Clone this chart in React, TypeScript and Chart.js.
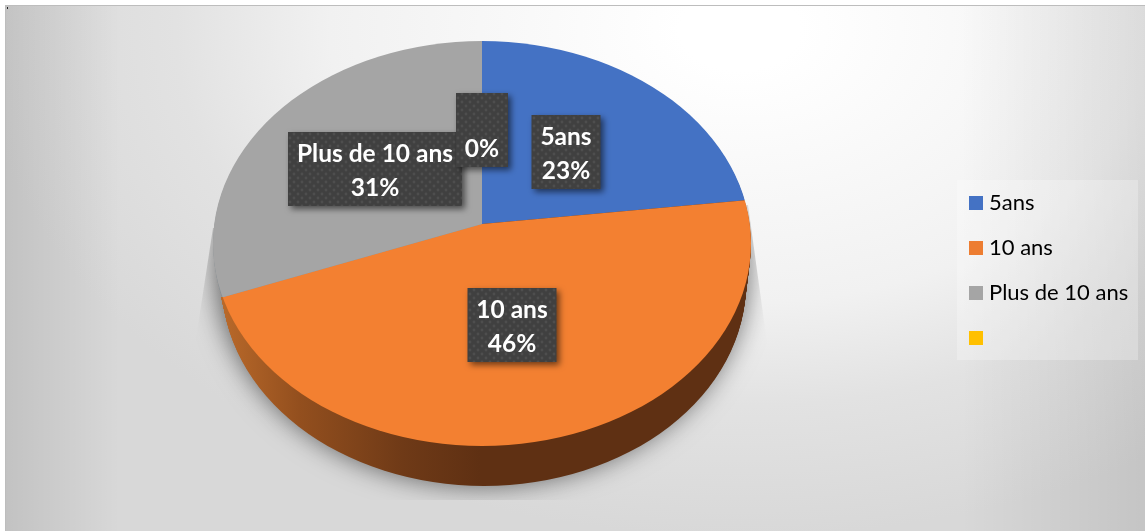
import React, { useEffect, useRef } from "react";
import { Chart, registerables } from "chart.js";

Chart.register(...registerables);

const categories = ["5ans", "10 ans", "Plus de 10 ans", ""];
const shares = [23, 46, 31, 0];
const sliceColors = ["#4472C4", "#F38031", "#A5A5A5", "#FFC000"];
const legendColors = ["#4472C4", "#ED7D31", "#A5A5A5", "#FFC000"];
const labelNudges = [[0, 3], [-1, 4], [-2, 1], [0, 6]];

const APEX = { x: 482, y: 224 };
const FACE = { x: 482, y: 243.5, rx: 269, ry: 202.5 };
const DEPTH = 40;
const WALL_START_Y = 297;
const FONT = "Lato, 'Open Sans', sans-serif";

function ellipsePath(ctx: CanvasRenderingContext2D, dy = 0) {
  ctx.beginPath();
  ctx.ellipse(FACE.x + 0.05 * dy, FACE.y + dy, FACE.rx - 0.175 * dy, FACE.ry, 0, 0, Math.PI * 2);
}

function drawArcs(ctx: CanvasRenderingContext2D, arcs: any[], dy: number, paint?: (i: number, toUser: (x: number) => number) => any) {
  arcs.forEach((el, i) => {
    if (!el.circumference) return;
    const sx = 340 / el.outerRadius;
    const sy = 243 / el.outerRadius;
    ctx.save();
    ctx.translate(APEX.x, APEX.y + dy);
    ctx.scale(sx, sy);
    ctx.translate(-el.x, -el.y);
    const orig = el.options;
    if (paint) {
      const fill = paint(i, (x: number) => (x - APEX.x) / sx + el.x);
      el.options = Object.create(orig, { backgroundColor: { value: fill } });
    }
    el.draw(ctx);
    el.options = orig;
    ctx.restore();
  });
}

const scenePlugin = {
  id: "scene",
  afterLayout(chart: any) {
    const lg = chart.legend;
    const dx = 951 - lg.left;
    const dy = 169 - lg.top;
    lg.left += dx; lg.right += dx; lg.top += dy; lg.bottom += dy;
    lg.adjustHitBoxes();
  },
  beforeDraw(chart: any) {
    const { ctx, width, height } = chart;
    ctx.save();
    ctx.fillStyle = "#ffffff";
    ctx.fillRect(0, 0, width, height);

    ctx.save();
    ctx.beginPath();
    ctx.rect(5, 5, width - 5, height - 5);
    ctx.clip();
    ctx.translate(740, 30);
    ctx.scale(1, 1 / 1.5);
    const g = ctx.createRadialGradient(0, 0, 60, 0, 0, 760);
    g.addColorStop(0, "#ffffff");
    g.addColorStop(0.5, "#f1f1f1");
    g.addColorStop(0.72, "#e2e2e2");
    g.addColorStop(1, "#d8d8d8");
    ctx.fillStyle = g;
    ctx.fillRect(-800, -100, 1400, 1000);
    ctx.restore();

    const l = ctx.createLinearGradient(5, 0, 120, 0);
    l.addColorStop(0, "rgba(0,0,0,0.10)");
    l.addColorStop(1, "rgba(0,0,0,0)");
    ctx.fillStyle = l;
    ctx.fillRect(5, 5, 115, height - 5);
    const r = ctx.createLinearGradient(960, 0, width, 0);
    r.addColorStop(0, "rgba(0,0,0,0)");
    r.addColorStop(1, "rgba(0,0,0,0.09)");
    ctx.fillStyle = r;
    ctx.fillRect(960, 5, width - 960, height - 5);
    ctx.fillStyle = "#bdbdbd";
    ctx.fillRect(5, 5, width - 5, 1);
    ctx.fillRect(5, 5, 1, height - 5);
    ctx.fillStyle = "#222222";
    ctx.fillRect(7, 7, 1, 2);

    ctx.fillStyle = "rgba(255,255,255,0.25)";
    const hit = chart.legend.legendHitBoxes;
    const last = hit[hit.length - 1];
    ctx.fillRect(957, hit[0].top - 12, 181, last.top + last.height + 11 - (hit[0].top - 12));
    ctx.restore();
  },
  beforeDatasetsDraw(chart: any) {
    const { ctx } = chart;
    const arcs = chart.getDatasetMeta(0).data;

    // soft floor shadow, cut off like the source picture
    ctx.save();
    ctx.beginPath();
    ctx.moveTo(213, 228);
    ctx.lineTo(195, 345);
    ctx.lineTo(195, 500);
    ctx.lineTo(770, 500);
    ctx.lineTo(768, 350);
    ctx.lineTo(748, 205);
    ctx.closePath();
    ctx.clip();
    ctx.shadowColor = "rgba(0,0,0,0.55)";
    ctx.shadowBlur = 26;
    ctx.shadowOffsetX = 3000;
    ctx.shadowOffsetY = 0;
    ctx.fillStyle = "#000";
    ctx.beginPath();
    ctx.ellipse(FACE.x - 3000, FACE.y + 24, FACE.rx - 2, FACE.ry + 16, 0, 0, Math.PI * 2);
    ctx.fill();
    ctx.restore();

    // thin grey sliver of the wall beside the grey slice
    for (let dy = 4; dy >= 1; dy--) {
      ctx.save();
      ctx.beginPath();
      ctx.rect(0, 0, APEX.x, WALL_START_Y);
      ctx.clip();
      ellipsePath(ctx, dy);
      ctx.clip();
      drawArcs(ctx, arcs, dy, () => "#8a9196");
      ctx.restore();
    }

    // the wall of the disc
    ctx.save();
    ctx.beginPath();
    ctx.rect(0, WALL_START_Y, APEX.x, 300);
    ctx.rect(APEX.x, 0, 700, 600);
    ctx.clip();
    for (let dy = DEPTH; dy >= 1; dy--) {
      ctx.save();
      ellipsePath(ctx, dy);
      ctx.clip();
      drawArcs(ctx, arcs, dy, (_i, toUser) => {
        const g = ctx.createLinearGradient(toUser(222), 0, toUser(480), 0);
        g.addColorStop(0, "#B9692A");
        g.addColorStop(0.3, "#934F1E");
        g.addColorStop(0.7, "#6F3A17");
        g.addColorStop(1, "#5F3013");
        return g;
      });
      ctx.restore();
    }
    ctx.restore();

    // the top face
    ctx.save();
    ellipsePath(ctx);
    ctx.clip();
    drawArcs(ctx, arcs, 0);
    ctx.restore();
    return false;
  },
  afterDraw(chart: any) {
    const { ctx } = chart;
    const arcs = chart.getDatasetMeta(0).data;
    const total = shares.reduce((a, b) => a + b, 0);
    const tile = document.createElement("canvas");
    tile.width = 8;
    tile.height = 8;
    const t = tile.getContext("2d")!;
    t.fillStyle = "#404040";
    t.fillRect(0, 0, 8, 8);
    t.fillStyle = "#4e4e4e";
    [[2, 2], [6, 6]].forEach(([x, y]) => {
      t.beginPath();
      t.arc(x, y, 1.4, 0, Math.PI * 2);
      t.fill();
    });
    const pattern = ctx.createPattern(tile, "repeat");

    arcs.forEach((el: any, i: number) => {
      const mid = (el.startAngle + el.endAngle) / 2;
      const cx = Math.round(APEX.x + 126.4 * Math.cos(mid) + labelNudges[i][0]);
      const cy = Math.round(APEX.y + 99.8 * Math.sin(mid) + labelNudges[i][1]);
      const lines = [categories[i], Math.round((shares[i] / total) * 100) + "%"];
      ctx.save();
      ctx.font = "bold 24.5px " + FONT;
      const tw = Math.max(...lines.map((s) => ctx.measureText(s).width));
      const w = Math.round(tw + 18);
      const h = 74;
      ctx.shadowColor = "rgba(0,0,0,0.55)";
      ctx.shadowBlur = 6;
      ctx.shadowOffsetX = 3;
      ctx.shadowOffsetY = 3;
      ctx.fillStyle = pattern;
      ctx.fillRect(cx - w / 2, cy - h / 2, w, h);
      ctx.shadowColor = "transparent";
      ctx.fillStyle = "#ffffff";
      ctx.textAlign = "center";
      ctx.textBaseline = "middle";
      ctx.fillText(lines[0], cx, cy - 15);
      ctx.fillText(lines[1], cx, cy + 19);
      ctx.restore();
    });
  },
};

export default function App() {
  const ref = useRef<HTMLCanvasElement>(null);
  useEffect(() => {
    const chart = new Chart(ref.current!, {
      type: "pie",
      data: {
        labels: categories,
        datasets: [{ data: shares, backgroundColor: sliceColors, borderWidth: 0 }],
      },
      options: {
        animation: false,
        responsive: false,
        plugins: {
          tooltip: { enabled: false },
          legend: {
            position: "right",
            align: "start",
            labels: {
              boxWidth: 4,
              boxHeight: 4,
              padding: 23,
              color: "#4a4a4a",
              font: { size: 22, family: FONT },
              generateLabels: () =>
                categories.map((text, i) => ({
                  text,
                  index: i,
                  fillStyle: legendColors[i],
                  strokeStyle: legendColors[i],
                  lineWidth: 10,
                  hidden: false,
                })),
            },
          },
        },
      },
      plugins: [scenePlugin],
    } as any);
    return () => chart.destroy();
  }, []);
  return (
    <div style={{ position: "fixed", left: 0, top: 0, width: 1145, height: 531 }}>
      <canvas ref={ref} width={1145} height={531} style={{ display: "block" }} />
    </div>
  );
}
